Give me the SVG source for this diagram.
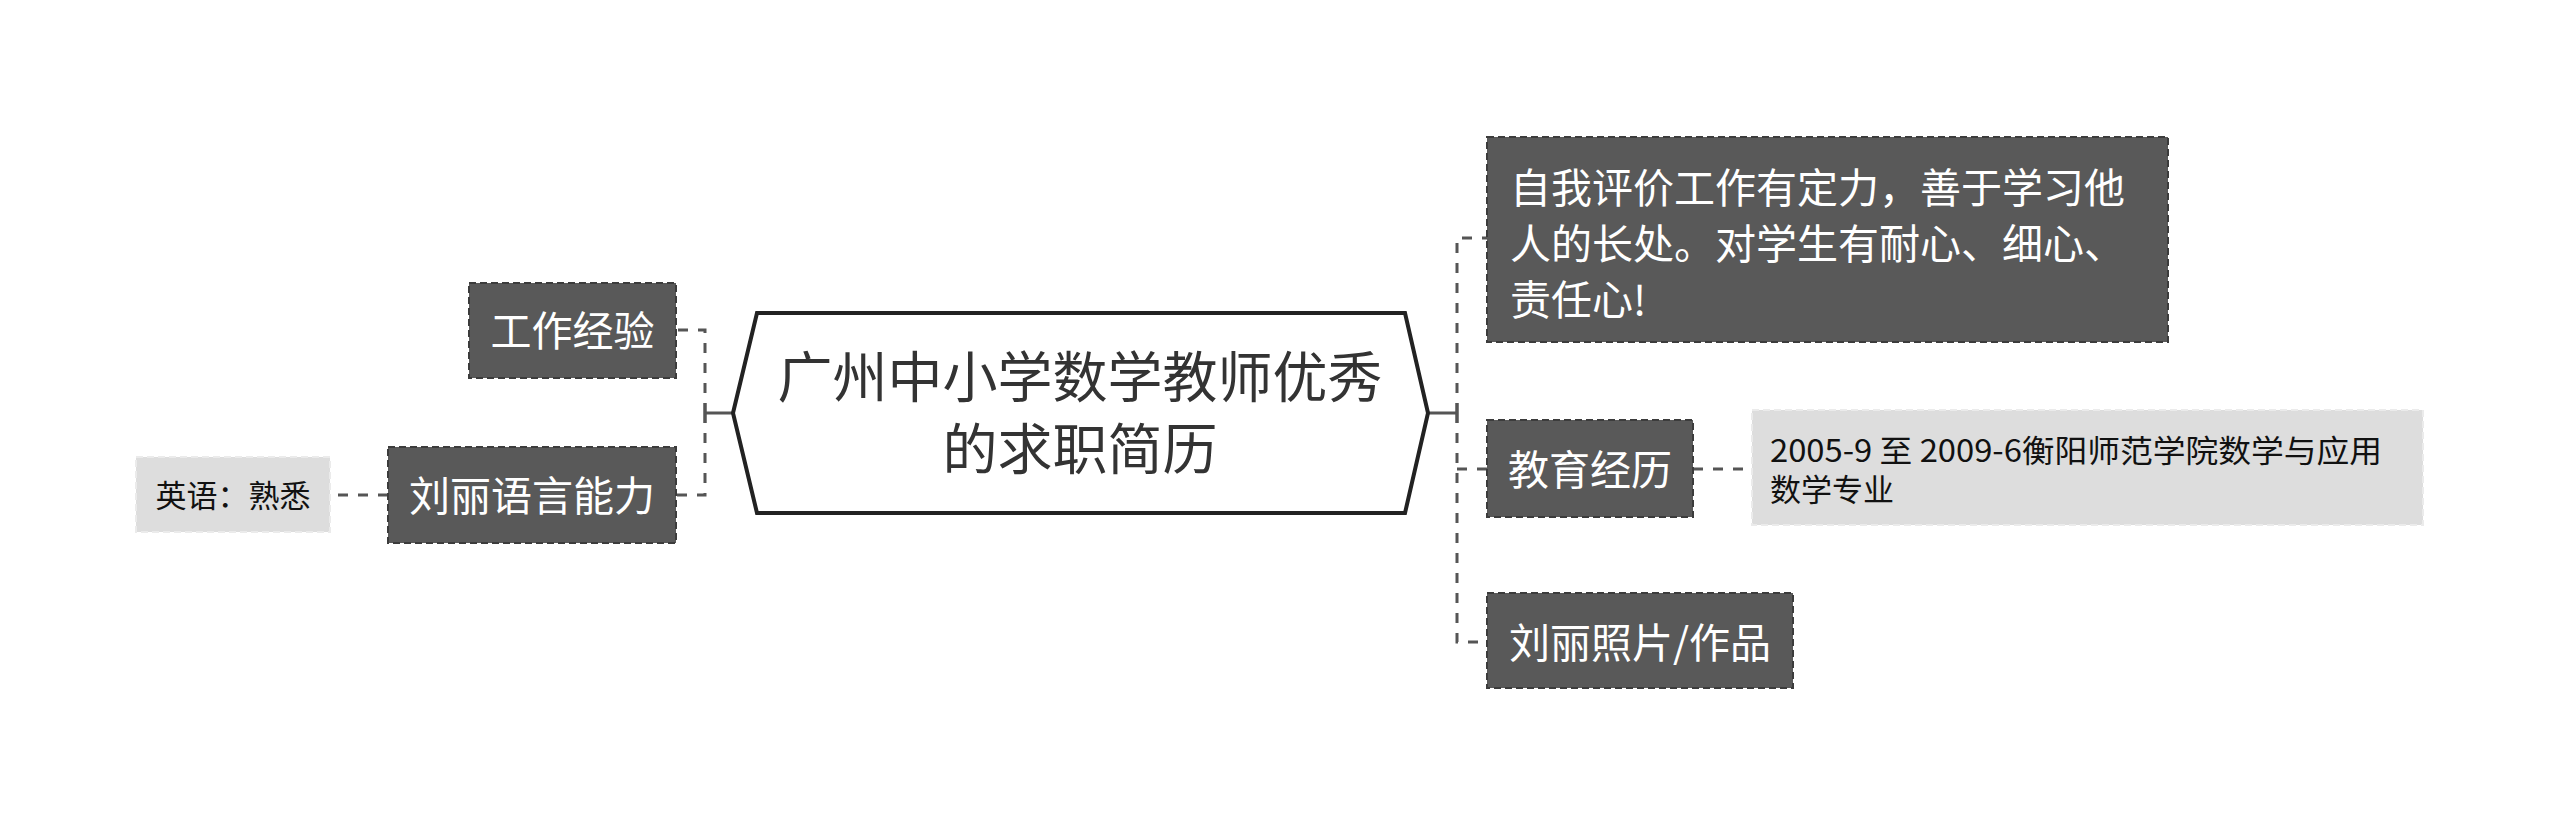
<svg xmlns="http://www.w3.org/2000/svg" width="2560" height="826" viewBox="0 0 2560 826">
<style>
.bg{fill:#ffffff}
.dark rect{fill:#595959;stroke:#3c3c3c;stroke-width:2;stroke-dasharray:7 4}
.light rect{fill:#dddddd;stroke:#ebebeb;stroke-width:2;stroke-dasharray:7 4}
.t{font-family:"Noto Sans CJK SC","Noto Sans",sans-serif}
.dark text{fill:#ffffff;font-size:41px}
.light text{fill:#111111;font-size:31px}
.center polygon{fill:#ffffff;stroke:#222222;stroke-width:4;stroke-linejoin:miter}
.center text{fill:#333333;font-size:55px}
.conn .solid{fill:none;stroke:#555555;stroke-width:3}
.conn .dash{fill:none;stroke:#555555;stroke-width:3;stroke-dasharray:10 10}
</style>
<rect class="bg" x="0" y="0" width="2560" height="826"/>
<g id="connectors" class="conn">
  <path class="solid" d="M1428,413 H1457 M1457,403 V423"/>
  <path class="dash" d="M1457,413 V238 H1487"/>
  <path class="dash" d="M1457,413 V642 H1487"/>
  <path class="dash" d="M1457,469 H1487"/>
  <path class="dash" d="M1693,469 H1752"/>
  <path class="solid" d="M733,413 H705 M705,403 V423"/>
  <path class="dash" d="M705,413 V330 H676"/>
  <path class="dash" d="M705,413 V495 H676"/>
  <path class="dash" d="M388,495 H330"/>
</g>
<g id="root" class="center">
  <polygon points="733,413 757,313 1405,313 1428,413 1405,513 757,513"/>
  <text class="t" x="1080" y="397" text-anchor="middle">广州中小学数学教师优秀</text>
  <text class="t" x="1080" y="469" text-anchor="middle">的求职简历</text>
</g>
<g id="self-eval" class="dark">
  <rect x="1487" y="137" width="681" height="205"/>
  <text class="t" x="1510" y="203">自我评价工作有定力，善于学习他</text>
  <text class="t" x="1510" y="259">人的长处。对学生有耐心、细心、</text>
  <text class="t" x="1510" y="315">责任心!</text>
</g>
<g id="education" class="dark">
  <rect x="1487" y="420" width="206" height="97"/>
  <text class="t" x="1590" y="485" text-anchor="middle">教育经历</text>
</g>
<g id="education-detail" class="light">
  <rect x="1752" y="410" width="671" height="115"/>
  <text class="t" x="1770" y="462" textLength="612" lengthAdjust="spacingAndGlyphs">2005-9 至 2009-6衡阳师范学院数学与应用</text>
  <text class="t" x="1770" y="501">数学专业</text>
</g>
<g id="photos" class="dark">
  <rect x="1487" y="593" width="306" height="95"/>
  <text class="t" x="1640" y="658" text-anchor="middle">刘丽照片/作品</text>
</g>
<g id="work" class="dark">
  <rect x="469" y="283" width="207" height="95"/>
  <text class="t" x="572.5" y="346" text-anchor="middle">工作经验</text>
</g>
<g id="language" class="dark">
  <rect x="388" y="447" width="288" height="96"/>
  <text class="t" x="532" y="511" text-anchor="middle">刘丽语言能力</text>
</g>
<g id="english" class="light">
  <rect x="136" y="457" width="194" height="75"/>
  <text class="t" x="233" y="507" text-anchor="middle">英语：熟悉</text>
</g>
</svg>
